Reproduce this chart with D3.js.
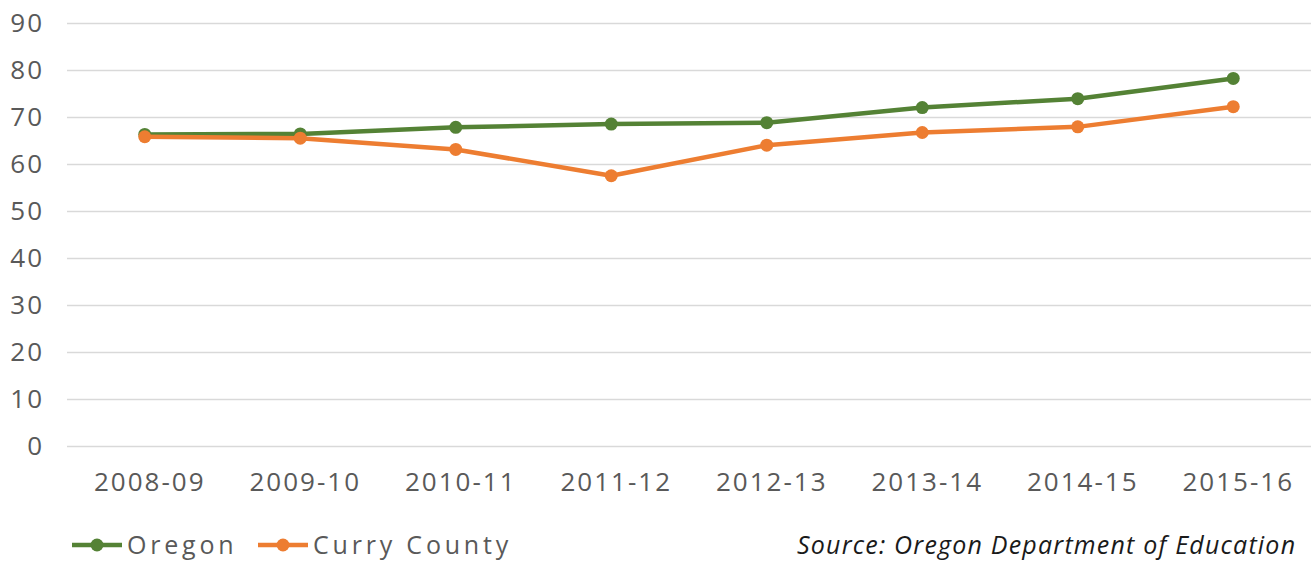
<!DOCTYPE html>
<html><head><meta charset="utf-8">
<script src="https://cdn.jsdelivr.net/npm/d3@7"></script>
<style>
html,body{margin:0;padding:0;background:#fff;}
svg{display:block;}
</style></head>
<body>
<svg id="chart" width="1311" height="562"></svg>
<script>
const categories = ["2008-09","2009-10","2010-11","2011-12","2012-13","2013-14","2014-15","2015-16"];
const oregon = [66.3, 66.4, 67.8, 68.5, 68.8, 72.0, 73.9, 78.2];
const curry  = [65.8, 65.5, 63.1, 57.5, 64.0, 66.7, 67.9, 72.2];
const yTicks = [0,10,20,30,40,50,60,70,80,90];
const seriesNames = ["Oregon","Curry County"];
const colors = ["#548235","#ED7D31"];
const sourceText = "Source: Oregon Department of Education";

(function(){
const svg = d3.select("#chart");
const pLeft = 67, pRight = 1311, pTop = 23, pBottom = 446;
const font = "'Open Sans', 'Noto Sans', sans-serif";

const x = d3.scaleBand().domain(categories).range([pLeft, pRight]).paddingInner(0).paddingOuter(0);
const y = d3.scaleLinear().domain([0, 90]).range([pBottom, pTop]);

const yAxis = svg.append("g").attr("transform", `translate(${pLeft},0)`)
  .call(d3.axisLeft(y).tickValues(yTicks).tickSize(-(pRight-pLeft)).tickPadding(23).tickFormat(d3.format("d")));
yAxis.select(".domain").remove();
yAxis.selectAll(".tick line").attr("stroke", "#d9d9d9").attr("stroke-width", 1.5);
yAxis.selectAll(".tick text").attr("fill", "#595959").attr("font-family", font)
  .attr("font-size", 26).attr("letter-spacing", 2);

const xAxis = svg.append("g").attr("transform", `translate(0,${pBottom})`)
  .call(d3.axisBottom(x).tickSize(0).tickPadding(27));
xAxis.select(".domain").remove();
xAxis.selectAll(".tick text").attr("fill", "#595959").attr("font-family", font)
  .attr("font-size", 26).attr("letter-spacing", 2).attr("dx", 5);

const line = d3.line().x((d,i) => x(categories[i]) + x.bandwidth()/2).y(d => y(d));
[oregon, curry].forEach((vals, si) => {
  const g = svg.append("g");
  g.append("path").datum(vals).attr("d", line).attr("fill", "none")
    .attr("stroke", colors[si]).attr("stroke-width", 4.5).attr("stroke-linejoin", "round");
  g.selectAll("circle").data(vals).join("circle")
    .attr("cx", (d,i) => x(categories[i]) + x.bandwidth()/2)
    .attr("cy", d => y(d)).attr("r", 6.5).attr("fill", colors[si]);
});

const legendX = [72, 258];
seriesNames.forEach((name, i) => {
  const g = svg.append("g").attr("transform", `translate(${legendX[i]},545)`);
  g.append("line").attr("x1", 0).attr("x2", 50).attr("y1", 0).attr("y2", 0)
    .attr("stroke", colors[i]).attr("stroke-width", 4.5);
  g.append("circle").attr("cx", 25).attr("cy", 0).attr("r", 6.5).attr("fill", colors[i]);
  g.append("text").attr("x", 55).attr("y", 9).attr("fill", "#595959")
    .attr("font-family", font).attr("font-size", 25).attr("letter-spacing", 3.8).text(name);
});

svg.append("text").attr("x", 797).attr("y", 554).attr("fill", "#1a1a1a")
  .attr("font-family", font).attr("font-style", "italic").attr("font-size", 25)
  .attr("letter-spacing", 1.2)
  .text(sourceText);
})();
</script>
</body></html>
